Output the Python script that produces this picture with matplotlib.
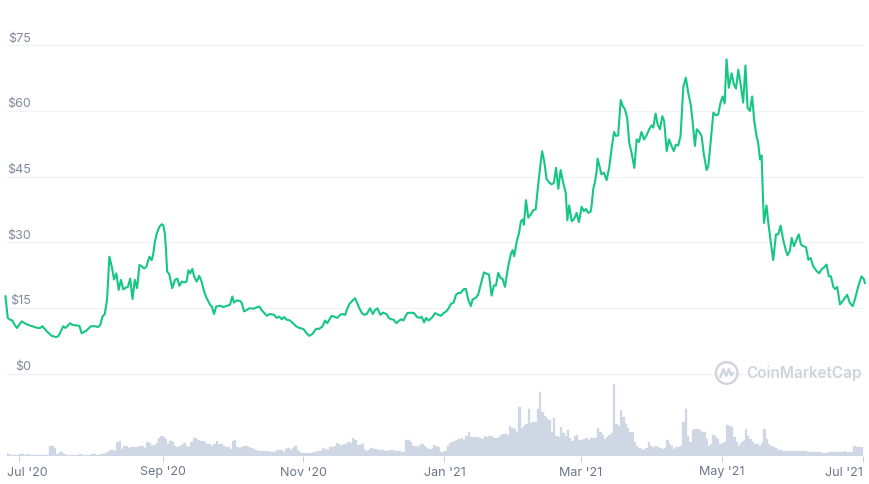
import numpy as np
import matplotlib
matplotlib.use("Agg")
import matplotlib.pyplot as plt
import matplotlib.dates as mdates
from matplotlib.patches import Circle
from matplotlib.lines import Line2D

# ---------------- data ----------------
START = np.datetime64("2020-07-01T00:00:00")

# price: days since 2020-07-01, price in USD
price_day = [
    -6, -5, -4, -3, -2, -1, 1, 3, 5, 8, 9, 10, 12, 14, 16, 17, 19, 20, 22, 23,
    26, 27, 29, 31, 33, 34, 35, 36, 37, 38, 39, 40, 41, 42, 43, 44, 45, 46, 47, 48,
    49, 50, 51, 52, 53, 54, 55, 56.3, 57.3, 58, 58.7, 59.5, 60.6, 61.6, 62.3, 63, 63.5, 64, 64.9, 66.2,
    67.4, 68.4, 69.3, 70.3, 71.7, 72.4, 73.2, 74, 74.9, 75.7, 76.8, 77.9, 78.9, 80, 81.1, 82.6, 83.3, 84.3, 85.2, 86.9,
    88.3, 90, 91.2, 92.2, 92.9, 94.1, 95.5, 96.3, 97.3, 98.4, 99.5, 101.3, 102.7, 103.9, 104.9, 105.9, 107.1, 108.5, 110.3, 111.4,
    112.5, 113.6, 114.6, 115.7, 117.2, 118.6, 119.8, 121.2, 122.9, 124.4, 125.5, 127, 128.4, 129.8, 131.3, 132.3, 133.3, 134.2, 135.2, 136.7,
    137.7, 138.8, 140, 141.1, 141.7, 142.9, 144.3, 145.3, 146, 147.2, 148.3, 149.3, 150.4, 151.8, 153, 154, 155, 156.3, 157.4, 158.9,
    159.9, 160.9, 162, 163.2, 164.2, 165.3, 166.2, 167.9, 169.4, 170.8, 172.2, 173.4, 174.1, 175.2, 176.1, 177.1, 178.5, 180, 181.4, 182.5,
    183.6, 184.8, 185.8, 186.8, 188, 189, 190, 191, 192.4, 193.3, 194.3, 195.4, 196.2, 197.6, 198.6, 199.7, 201.1, 202.3, 203.3, 204.4,
    205.4, 206.3, 207.3, 208.3, 209.2, 210.2, 211.6, 212.7, 213.5, 214.2, 215.3, 216.3, 217.1, 217.9, 218.4, 219.3, 220.3, 221.3, 222.4, 223.5,
    224.3, 225.3, 226.3, 227.2, 228.2, 229.4, 230.4, 231.4, 232.3, 233.3, 234.3, 235.4, 236.5, 237.2, 238, 239.1, 240.1, 241.2, 242.2, 243.4,
    244.4, 245.3, 246.2, 247.3, 247.7, 248.4, 249.1, 249.9, 250.3, 250.9, 252, 253, 254.2, 255.3, 256.4, 257.4, 258.2, 259.2, 260.3, 261.2,
    262.1, 263.1, 264, 265, 266.2, 267.2, 268.2, 269.3, 270.4, 271.5, 272.6, 273.7, 274.4, 275.4, 276.3, 277.3, 278.3, 279.1, 280.2, 281.2,
    282.3, 283.3, 284.2, 285.2, 286.2, 287.4, 288.5, 289.5, 290.6, 291.4, 292.4, 293.2, 294.3, 295.3, 296.3, 297.5, 298.2, 299.2, 300.4, 301.5,
    302.5, 303.5, 304.4, 305.3, 306.1, 307.1, 308.3, 309.3, 310.2, 311.2, 312.2, 313.3, 314.3, 315.2, 316.2, 317.2, 318.1, 319.1, 319.8, 320.6,
    321.3, 321.7, 322.3, 322.7, 323.4, 324.2, 325.2, 326.3, 327.5, 328.5, 329.5, 330.6, 331.7, 332.5, 333.5, 334.3, 335.3, 336.4, 337.4, 338.3,
    339.3, 340.5, 341.5, 342.5, 343.6, 345.1, 346.2, 347.2, 348.2, 349.4, 350.4, 351.3, 352.3, 353.1, 354.0, 355.2, 356.6, 358.3, 359.5, 360.7,
    361.7, 363.1, 364.5, 365.6, 366.0,
]
price_usd = [
    17.7, 12.7, 12.3, 12.1, 11.1, 10.4, 11.9, 11.3, 10.9, 10.4, 10.4, 10.8, 9.6, 8.6, 8.3, 8.6, 10.8, 10.4, 11.5, 11.1,
    10.9, 9.2, 9.8, 10.8, 10.8, 10.6, 11.0, 13.0, 13.6, 17.0, 26.7, 24.5, 21.5, 22.9, 19.1, 21.4, 19.2, 19.6, 19.8, 21.7,
    17.0, 21.4, 19.5, 24.8, 24.5, 24.0, 24.4, 26.7, 25.9, 27.4, 30.1, 32.0, 33.5, 34.1, 33.9, 32.0, 28.2, 23.3, 22.7, 19.5,
    21.4, 21.7, 20.0, 21.0, 20.8, 21.0, 23.6, 22.9, 23.9, 22.1, 21.0, 22.3, 21.0, 18.7, 17.2, 15.7, 15.3, 13.6, 15.3, 15.5,
    15.2, 15.5, 15.7, 17.6, 16.2, 16.7, 16.6, 16.1, 14.2, 14.5, 14.9, 14.8, 15.1, 15.3, 14.5, 13.9, 13.2, 13.6, 13.4, 12.7,
    13.0, 12.4, 12.9, 12.3, 12.1, 11.4, 10.8, 10.4, 10.2, 9.2, 8.6, 9.1, 10.2, 10.2, 10.8, 12.1, 11.5, 12.3, 13.2, 12.9,
    12.7, 13.4, 13.6, 13.4, 14.5, 15.9, 16.7, 17.2, 16.4, 14.9, 13.8, 13.4, 13.6, 14.9, 13.6, 14.5, 14.9, 13.4, 13.9, 13.6,
    12.7, 12.4, 12.3, 11.5, 12.0, 12.4, 12.1, 13.8, 13.9, 13.8, 12.9, 12.7, 13.0, 11.7, 12.7, 12.1, 12.7, 13.8, 13.4, 13.2,
    13.8, 14.2, 14.9, 15.9, 16.2, 18.0, 18.4, 18.4, 19.3, 19.3, 16.9, 15.4, 16.9, 17.3, 18.0, 20.3, 23.1, 22.8, 22.6, 17.8,
    20.1, 20.1, 23.0, 21.8, 21.6, 19.8, 24.5, 27.2, 28.2, 26.8, 30.2, 32.1, 34.8, 35.2, 34.0, 39.6, 35.6, 36.3, 37.3, 37.5,
    41.7, 46.6, 50.8, 48.5, 44.5, 43.6, 43.2, 43.6, 47.0, 42.2, 46.5, 43.6, 41.3, 35.0, 38.4, 34.8, 35.3, 36.7, 34.6, 38.1,
    37.1, 37.6, 36.7, 37.0, 38.3, 42.1, 43.6, 46.3, 49.1, 47.8, 45.5, 45.9, 44.2, 47.0, 51.6, 55.2, 54.3, 54.4, 62.5, 61.1,
    60.4, 58.4, 52.7, 50.4, 47.0, 53.5, 52.9, 55.2, 53.5, 54.4, 55.8, 56.7, 56.2, 59.4, 56.9, 55.8, 58.8, 57.7, 50.8, 53.5,
    52.0, 50.8, 52.3, 52.1, 54.3, 65.5, 67.6, 64.2, 61.5, 57.7, 52.0, 55.8, 55.2, 54.3, 50.0, 46.5, 47.3, 52.7, 59.6, 59.0,
    59.2, 61.9, 63.3, 61.7, 71.8, 65.3, 68.6, 66.1, 65.1, 69.4, 66.1, 61.9, 70.4, 60.7, 60.0, 63.3, 57.7, 54.2, 52.7, 48.9,
    49.8, 42.8, 34.4, 35.9, 38.4, 34.4, 30.2, 25.9, 31.8, 31.8, 33.8, 30.6, 28.3, 27.0, 28.0, 31.0, 29.1, 30.6, 31.8, 29.5,
    29.1, 28.9, 26.0, 26.4, 24.5, 23.4, 22.9, 23.8, 24.2, 24.9, 22.2, 22.2, 19.8, 19.3, 19.8, 15.8, 16.7, 18.0, 16.1, 15.4,
    17.0, 19.9, 22.2, 21.5, 20.6,
]

# daily volume (relative units), first bar = day -6 relative to 2020-07-01
volume_first_day = -6
volume = [
    7, 4, 3, 2, 2, 3, 4, 4, 3, 4,
    2, 2, 3, 3, 2, 2, 2, 2, 2, 29,
    29, 24, 6, 10, 10, 5, 3, 2, 2, 2,
    3, 3, 4, 3, 3, 3, 3, 4, 4, 3,
    3, 5, 6, 9, 10, 17, 18, 13, 40, 44,
    20, 29, 28, 22, 26, 26, 26, 25, 30, 29,
    22, 40, 38, 30, 33, 38, 52, 58, 57, 50,
    36, 45, 42, 28, 25, 28, 32, 37, 28, 26,
    42, 54, 52, 48, 44, 44, 42, 34, 36, 30,
    36, 44, 34, 34, 30, 26, 26, 20, 45, 47,
    26, 24, 25, 28, 28, 25, 22, 20, 18, 14,
    13, 15, 15, 13, 12, 12, 12, 17, 18, 17,
    10, 20, 22,
    18, 22, 28, 18, 10, 9, 8, 8, 8, 9,
    12, 12, 15, 15, 22, 20, 18, 25, 27, 30,
    38, 34, 32, 35, 36, 40, 38, 52, 46, 32,
    33, 35, 18, 15, 16, 22, 21, 20, 18, 18,
    16, 15, 15, 18, 17, 15, 14, 14, 11, 10,
    48, 46, 40, 30, 28, 25, 33, 35, 28, 22,
    21, 20, 32, 30, 25, 10, 11, 14, 30, 38,
    42, 45, 48, 50, 52, 48, 60, 72, 55, 56,
    55, 55, 52, 50, 58, 57, 58, 60, 52, 54,
    56, 62, 64, 64, 62, 88, 84, 80, 70, 145,
    82, 90, 95, 140, 98, 100, 102, 140, 192, 130,
    120, 112, 108, 70, 112, 60, 56, 85, 68, 60,
    78, 52, 45, 60, 62,
    47, 47, 50, 52, 48, 54, 54, 52, 84, 70,
    62, 50, 55, 62, 67, 214, 94, 90, 137, 117,
    95, 82, 70, 72, 40, 28, 22, 20, 18, 22,
    42, 30, 25, 28, 25, 22, 20, 22, 47, 35,
    28, 20, 25, 25, 30, 100, 140, 60, 40, 77,
    80, 80, 76, 72, 70, 50, 30, 35, 62, 55,
    50, 35, 38, 40, 92, 90, 85, 55, 40, 30,
    38, 45, 79, 60, 50, 40, 35, 35, 30, 38,
    79, 50, 35, 30, 25, 22, 18, 16, 15, 15,
    14, 14, 15, 14, 14, 13, 13, 13, 13, 12,
    12, 11, 11, 11, 10, 9, 9, 9, 10,
    10, 10, 11, 11, 11, 12, 13, 12, 12, 10,
    28, 27, 26, 26,
]

price_ticks = [0, 15, 30, 45, 60, 75]
price_tick_labels = ["$0", "$15", "$30", "$45", "$60", "$75"]
date_ticks = ["2020-07-01", "2020-09-01", "2020-11-01", "2021-01-01",
              "2021-03-01", "2021-05-01", "2021-07-01"]
date_tick_labels = ["Jul '20", "Sep '20", "Nov '20", "Jan '21",
                    "Mar '21", "May '21", "Jul '21"]
x_range_days = (-5.45, 365.6)


def to_dates(days):
    days = np.asarray(days, dtype=float)
    return START + np.round(days * 86400).astype("timedelta64[s]")


def to_num(dates):
    return mdates.date2num(dates)


# ---------------- figure ----------------
W, H = 870, 484
plt.rcParams["font.family"] = ["Inter", "DejaVu Sans"]
fig = plt.figure(figsize=(W / 100, H / 100), dpi=100, facecolor="white")


def rect(left, top, right, bottom):
    return [left / W, 1 - bottom / H, (right - left) / W, (bottom - top) / H]


GREEN = "#16c784"
GRID = "#eff2f5"
LABEL = "#808a9d"
xlim = to_num(to_dates(x_range_days))

# price panel
ax = fig.add_axes(rect(6.7, 10, 864, 380))
ax.set_facecolor("none")
ppu = 4.376  # px per dollar
for s in ax.spines.values():
    s.set_visible(False)
for v, lbl in zip(price_ticks, price_tick_labels):
    ax.axhline(v, color=GRID, lw=0.8, zorder=0)
    ax.annotate(lbl, xy=(0, v), xycoords=ax.get_yaxis_transform(),
                xytext=(24, 3.5), textcoords="offset pixels",
                ha="right", va="baseline", fontsize=9, color=LABEL)
ax.plot(to_num(to_dates(price_day)), price_usd, color=GREEN, lw=1.5,
        solid_joinstyle="round", solid_capstyle="round", clip_on=False, zorder=3)
ax.set_xlim(xlim)
ax.set_ylim(-(380 - 373.5) / ppu, (373.5 - 10) / ppu)
ax.set_xticks([])
ax.set_yticks([])

# volume panel
axv = fig.add_axes(rect(6.7, 373.5, 864, 455.7))
axv.set_facecolor("none")
vol_days = np.arange(len(volume)) + volume_first_day
axv.bar(to_num(to_dates(vol_days)), volume, width=1.0, align="edge",
        color="#cfd6e4", edgecolor="#cfd6e4", linewidth=0.2)
axv.set_xlim(xlim)
axv.set_ylim(0, 214 * (455.7 - 373.5) / 71.4)
for s in axv.spines.values():
    s.set_visible(False)
axv.set_yticks([])
tick_nums = to_num(np.array(date_ticks, dtype="datetime64[s]"))
axv.set_xticks(tick_nums)
axv.set_xticklabels([])
axv.tick_params(axis="x", length=4.2, width=0.8, color="#ccd1da", direction="out")
n = len(date_tick_labels)
for i, (d, lbl) in enumerate(zip(tick_nums, date_tick_labels)):
    if i == 0:
        xpos, ha, dx = xlim[0], "left", 0.6
    elif i == n - 1:
        xpos, ha, dx = d, "right", 0
    else:
        xpos, ha, dx = d, "center", 0
    axv.annotate(lbl, xy=(xpos, 0), xycoords=axv.get_xaxis_transform(),
                 xytext=(dx, -19.8), textcoords="offset pixels",
                 ha=ha, va="baseline", fontsize=9, color="#6b768c",
                 annotation_clip=False)

# watermark
WM = "#cfd4dc"
cx, cy = 726.7 / 100, (H - 373) / 100
r = 0.108
fig.add_artist(Circle((cx, cy), r, transform=fig.dpi_scale_trans,
                      fill=False, lw=1.7, ec=WM))
wx = [cx - 0.6 * r, cx - 0.32 * r, cx - 0.05 * r, cx + 0.2 * r, cx + 0.42 * r, cx + 0.62 * r]
wy = [cy - 0.4 * r, cy + 0.35 * r, cy - 0.25 * r, cy + 0.35 * r, cy - 0.2 * r, cy + 0.02 * r]
fig.add_artist(Line2D(wx, wy, transform=fig.dpi_scale_trans, color=WM, lw=1.7,
                      solid_joinstyle="round", solid_capstyle="round"))
fig.text(746 / W, 1 - 373 / H, "CoinMarketCap", fontsize=11, fontweight="semibold",
         color=WM, ha="left", va="center")

fig.savefig("out.png", dpi=100, facecolor="white")
